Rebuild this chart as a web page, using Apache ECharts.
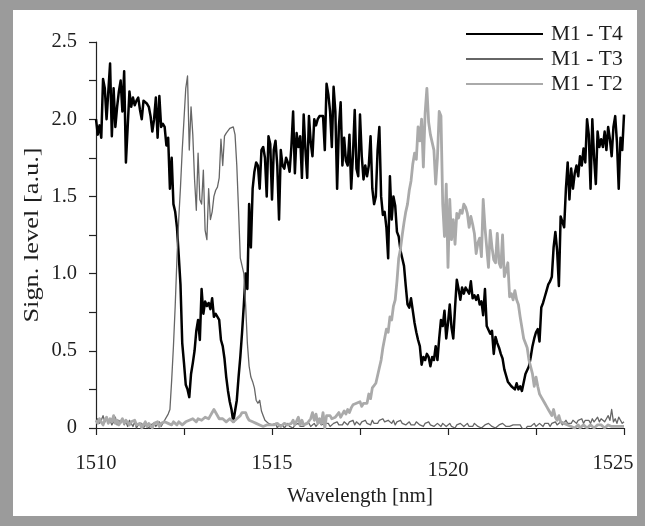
<!DOCTYPE html>
<html><head><meta charset="utf-8">
<script src="https://cdn.jsdelivr.net/npm/echarts@6/dist/echarts.min.js"></script>
<style>html,body{margin:0;padding:0;background:#fff}#c{width:645px;height:526px}</style>
</head><body><div id="c"></div>
<script>
const seriesNames = ['M1 - T4', 'M1 - T3', 'M1 - T2'];
const xTickLabels = ['1510', '1515', '1520', '1525'];
const yTickLabels = ['0', '0.5', '1.0', '1.5', '2.0', '2.5'];
const xAxisTitle = 'Wavelength [nm]';
const yAxisTitle = 'Sign. level [a.u.]';
const startWavelength = 1510;
const stepWavelength = 0.05;

// one row per nm: x.00 ... x.95
const t4 = [
2.00,1.90,1.96,1.88,2.26,2.20,2.00,2.18,2.36,1.89,2.20,1.95,2.08,2.18,2.25,2.05,2.31,1.72,1.95,2.18,
2.08,2.14,2.09,2.12,2.14,2.06,2.00,2.12,2.11,2.10,2.08,2.02,1.92,2.00,2.14,1.88,2.15,1.95,1.97,1.95,
1.83,1.88,1.55,1.75,1.45,1.40,1.30,1.12,0.93,0.55,0.42,0.28,0.25,0.20,0.35,0.42,0.50,0.63,0.70,0.57,
0.90,0.74,0.82,0.79,0.81,0.77,0.84,0.72,0.74,0.75,0.70,0.57,0.53,0.45,0.33,0.24,0.17,0.12,0.04,0.05,
0.18,0.33,0.46,0.62,0.80,1.00,0.90,1.45,1.17,1.55,1.66,1.72,1.70,1.55,1.80,1.82,1.75,1.50,1.89,1.84,
1.48,1.80,1.86,1.70,1.35,1.80,1.70,1.68,1.75,1.72,1.66,1.82,2.05,1.65,1.91,1.82,1.89,1.62,2.03,1.80,
1.62,2.02,1.85,1.76,2.00,1.96,2.00,2.02,2.03,2.02,1.80,2.23,2.16,2.05,1.82,2.21,2.05,1.55,1.95,2.11,
1.70,1.88,1.73,1.70,1.90,1.55,1.77,2.06,1.68,1.63,2.03,1.76,1.61,1.70,1.63,1.70,1.89,1.55,1.45,1.50,
1.80,1.95,1.50,1.38,1.40,1.30,1.10,1.63,1.35,1.50,1.44,1.27,1.24,1.15,1.10,1.05,0.92,0.80,0.78,0.84,
0.85,0.68,0.62,0.57,0.53,0.41,0.46,0.44,0.48,0.46,0.40,0.46,0.44,0.53,0.44,0.58,0.70,0.66,0.76,0.58,
0.68,0.80,0.65,0.58,0.78,0.96,0.90,0.83,0.91,0.87,0.91,0.92,0.87,0.95,0.84,0.86,0.83,0.86,0.80,0.82,
0.73,0.90,0.66,0.66,0.61,0.63,0.48,0.59,0.55,0.52,0.48,0.45,0.38,0.34,0.30,0.29,0.27,0.26,0.25,0.29,
0.25,0.27,0.24,0.25,0.35,0.36,0.40,0.46,0.53,0.58,0.62,0.64,0.56,0.78,0.81,0.85,0.89,0.93,0.95,0.98,
1.17,1.27,1.15,0.92,1.37,1.37,1.30,1.55,1.72,1.48,1.68,1.55,1.65,1.70,1.63,1.76,1.70,1.81,1.72,2.00,
1.90,1.55,2.00,1.75,1.58,1.92,1.82,1.87,1.82,1.92,1.80,1.95,1.87,1.76,1.95,2.02,1.85,1.55,1.88,1.80,
2.03
];

const t3 = [
0.04,0.06,0.03,0.05,0.08,0.04,0.06,0.03,0.05,0.02,0.04,0.07,0.02,0.05,0.03,0.06,0.02,0.04,0.01,0.05,
0.03,0.01,0.04,0.00,0.02,0.01,0.03,0.00,0.02,0.01,0.00,0.02,0.01,0.03,0.01,0.02,0.04,0.01,0.03,0.05,
0.06,0.09,0.12,0.31,0.53,0.79,1.10,1.35,1.56,1.80,2.00,2.20,2.28,1.80,2.08,1.90,1.61,1.41,1.78,1.48,
1.45,1.67,1.28,1.22,1.55,1.35,1.40,1.50,1.54,1.56,1.62,1.87,1.70,1.89,1.91,1.92,1.94,1.94,1.95,1.90,
1.70,1.41,1.10,1.05,1.00,0.80,0.55,0.40,0.33,0.30,0.26,0.18,0.16,0.18,0.11,0.08,0.05,0.04,0.03,0.02,
0.02,0.01,0.03,0.00,0.02,0.01,0.02,0.00,0.01,0.03,0.01,0.02,0.00,0.02,0.01,0.03,0.01,0.02,0.01,0.03,
0.02,0.03,0.01,0.02,0.03,0.01,0.02,0.04,0.02,0.01,0.03,0.02,0.03,0.01,0.02,0.03,0.02,0.04,0.02,0.03,
0.02,0.04,0.03,0.02,0.04,0.03,0.05,0.02,0.04,0.03,0.02,0.04,0.03,0.05,0.03,0.04,0.02,0.05,0.03,0.04,
0.03,0.05,0.04,0.06,0.04,0.03,0.05,0.04,0.03,0.05,0.02,0.04,0.03,0.05,0.03,0.04,0.02,0.03,0.04,0.02,
0.03,0.02,0.04,0.03,0.02,0.03,0.01,0.03,0.02,0.04,0.02,0.03,0.01,0.02,0.03,0.02,0.01,0.03,0.02,0.01,
0.02,0.03,0.01,0.02,0.00,0.02,0.01,0.03,0.02,0.01,0.02,0.03,0.01,0.02,0.01,0.03,0.02,0.01,0.02,0.00,
0.01,0.02,0.01,0.03,0.02,0.01,0.02,0.00,0.01,0.02,0.01,0.03,0.02,0.01,0.02,0.01,0.00,0.02,0.01,0.02,
0.01,0.02,0.00,0.01,-0.01,0.01,0.02,0.01,0.02,0.03,0.01,0.02,0.03,0.02,0.01,0.03,0.02,0.03,0.01,0.03,
0.02,0.04,0.02,0.03,0.04,0.02,0.03,0.05,0.03,0.04,0.03,0.05,0.04,0.03,0.05,0.04,0.06,0.03,0.05,0.04,
0.05,0.03,0.06,0.04,0.05,0.07,0.04,0.06,0.05,0.04,0.06,0.08,0.05,0.12,0.04,0.06,0.03,0.07,0.05,0.03,
0.04
];

const t2 = [
0.05,0.03,0.06,0.04,0.02,0.05,0.07,0.03,0.06,0.04,0.08,0.03,0.05,0.02,0.04,0.06,0.03,0.05,0.04,0.02,
0.04,0.03,0.05,0.02,0.01,0.03,0.00,0.02,0.04,0.01,0.03,0.02,0.00,0.03,0.02,0.04,0.01,0.03,0.02,0.04,
0.05,0.03,0.04,0.02,0.04,0.03,0.02,0.04,0.03,0.02,0.03,0.04,0.03,0.05,0.04,0.06,0.05,0.04,0.06,0.05,
0.05,0.06,0.07,0.08,0.06,0.08,0.10,0.12,0.10,0.09,0.06,0.05,0.06,0.05,0.04,0.05,0.06,0.05,0.04,0.05,
0.06,0.05,0.08,0.10,0.09,0.10,0.07,0.05,0.06,0.04,0.05,0.03,0.04,0.02,0.03,0.01,0.02,0.02,0.01,0.02,
0.01,0.02,0.01,0.03,0.02,0.01,0.02,0.03,0.04,0.02,0.01,0.03,0.05,0.02,0.03,0.07,0.02,0.05,0.02,0.03,
0.03,0.02,0.06,0.10,0.05,0.09,0.03,0.06,0.03,0.10,0.00,0.08,0.07,0.08,0.06,0.07,0.07,0.08,0.10,0.07,
0.09,0.11,0.09,0.12,0.10,0.13,0.15,0.14,0.16,0.15,0.17,0.14,0.16,0.17,0.16,0.22,0.19,0.26,0.25,0.29,
0.34,0.39,0.44,0.52,0.58,0.64,0.62,0.72,0.70,0.79,0.83,0.95,1.10,1.16,1.25,1.33,1.40,1.45,1.54,1.60,
1.71,1.78,1.74,1.95,1.86,2.00,1.69,2.04,2.20,1.98,1.90,1.91,1.80,1.58,1.75,2.05,2.02,1.45,1.24,1.58,
1.04,1.48,1.22,1.35,1.19,1.39,1.36,1.41,1.39,1.45,1.43,1.39,1.30,1.37,1.32,1.26,1.13,1.20,1.23,1.11,
1.48,1.30,1.17,1.04,1.28,1.17,1.09,1.07,1.26,1.07,1.04,1.25,0.98,1.02,1.07,0.85,0.87,0.83,0.89,0.83,
0.80,0.72,0.65,0.58,0.59,0.52,0.44,0.44,0.35,0.27,0.33,0.27,0.22,0.20,0.19,0.16,0.14,0.12,0.10,0.08,
0.12,0.07,0.05,0.08,0.04,0.05,0.03,0.04,0.02,0.03,0.01,0.02,0.00,0.01,0.02,0.00,0.01,0.02,0.01,0.00,
0.01,0.02,0.01,0.00,0.01,0.02,0.01,0.02,0.01,0.00,0.01,0.02,0.01,0.01,0.02,0.01,0.00,0.01,0.02,0.01,
0.01
];

const wavelengths = t4.map((_, i) => +(startWavelength + i * stepWavelength).toFixed(2));
const pairs = arr => arr.map((v, i) => [wavelengths[i], v]);

const FONT = 'Liberation Serif';
const TXT = '#1e1e1e';
const chart = echarts.init(document.getElementById('c'), null, { renderer: 'canvas' });

const styles = [
  { color: '#000000', width: 2.5 },
  { color: '#666666', width: 1.3 },
  { color: '#aaaaaa', width: 2.8 }
];
const dataSets = [t4, t3, t2];
const FRAME = '#9b9b9b';

chart.setOption({
  animation: false,
  backgroundColor: '#ffffff',
  textStyle: { fontFamily: FONT },
  graphic: [
    { type: 'rect', shape: { x: 0, y: 0, width: 13, height: 526 }, style: { fill: FRAME }, silent: true, z: 100 },
    { type: 'rect', shape: { x: 0, y: 0, width: 645, height: 10 }, style: { fill: FRAME }, silent: true, z: 100 },
    { type: 'rect', shape: { x: 637, y: 0, width: 8, height: 526 }, style: { fill: FRAME }, silent: true, z: 100 },
    { type: 'rect', shape: { x: 0, y: 516, width: 645, height: 10 }, style: { fill: FRAME }, silent: true, z: 100 },
    {
      type: 'text', x: 32, y: 235, rotation: Math.PI / 2, scaleX: 1.2, silent: true,
      style: { text: yAxisTitle, fontFamily: FONT, fontSize: 22, fill: TXT, align: 'center', verticalAlign: 'middle' }
    }
  ],
  legend: {
    orient: 'vertical',
    left: 465,
    top: 23,
    padding: 0,
    itemWidth: 77,
    itemHeight: 14,
    itemGap: 3,
    textStyle: { fontFamily: FONT, fontSize: 21.5, color: TXT, padding: [0, 0, 0, 3] },
    data: seriesNames.map(n => ({
      name: n,
      itemStyle: { color: 'rgba(0,0,0,0)', borderColor: 'rgba(0,0,0,0)', borderWidth: 0 }
    }))
  },
  grid: { left: 96, right: 21, top: 42, bottom: 98, containLabel: false },
  xAxis: {
    type: 'value',
    min: 1510, max: 1525, interval: 2.5,
    name: xAxisTitle,
    nameLocation: 'middle',
    nameGap: 55,
    nameTextStyle: { fontFamily: FONT, fontSize: 21, color: TXT },
    axisLine: { lineStyle: { color: '#222', width: 1.2 } },
    axisTick: { show: true, inside: false, length: 7, lineStyle: { color: '#222', width: 1.2 } },
    axisLabel: {
      margin: 25,
      fontFamily: FONT, fontSize: 20.5, color: TXT,
      formatter: v => {
        const k = Math.round((v - 1510) / 5);
        if (Math.abs((v - 1510) / 5 - k) > 1e-6) return '';
        if (k === 2) return '{low|' + xTickLabels[k] + '}';
        if (k === 3) return '{last|' + xTickLabels[k] + '}';
        return xTickLabels[k];
      },
      rich: {
        low: { fontFamily: FONT, fontSize: 20.5, color: TXT, padding: [7, 0, 0, 0] },
        last: { fontFamily: FONT, fontSize: 20.5, color: TXT, padding: [0, 22, 0, 0] }
      }
    },
    splitLine: { show: false }
  },
  yAxis: {
    type: 'value',
    min: 0, max: 2.5, interval: 0.25,
    axisLine: { show: true, lineStyle: { color: '#222', width: 1.2 } },
    axisTick: { show: true, inside: false, length: 7, lineStyle: { color: '#222', width: 1.2 } },
    axisLabel: {
      margin: 19,
      fontFamily: FONT, fontSize: 20.5, color: TXT,
      formatter: v => {
        const k = v / 0.5;
        return Math.abs(k - Math.round(k)) < 1e-6 ? yTickLabels[Math.round(k)] : '';
      }
    },
    splitLine: { show: false }
  },
  series: seriesNames.map((n, i) => ({
    name: n,
    type: 'line',
    symbol: 'none',
    showSymbol: false,
    data: pairs(dataSets[i]),
    lineStyle: { color: styles[i].color, width: styles[i].width, join: 'round' },
    itemStyle: { color: styles[i].color },
    z: 2 + i
  }))
});
</script>
</body></html>
